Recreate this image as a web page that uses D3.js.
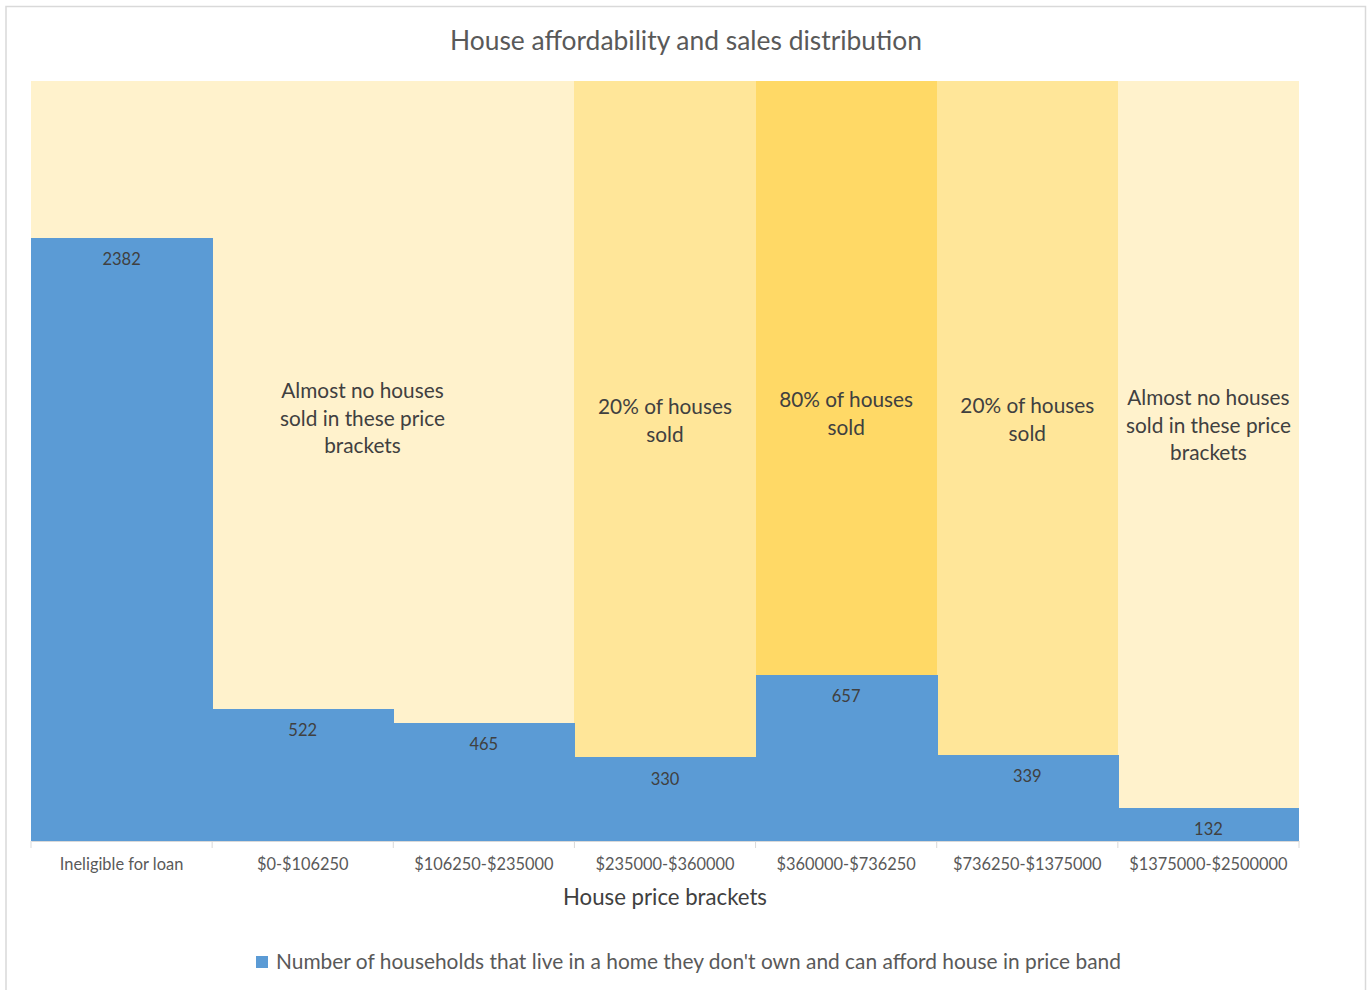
<!DOCTYPE html>
<html>
<head>
<meta charset="utf-8">
<script src="https://cdn.jsdelivr.net/npm/d3@7"></script>
<style>
  html, body { margin: 0; padding: 0; background: #fff; }
  svg { display: block; font-family: Lato, "Open Sans", sans-serif; }
</style>
</head>
<body>
<svg id="chart" width="1369" height="990"></svg>
<script>
// Price brackets along the x axis
const categories = [
  "Ineligible for loan",
  "$0-$106250",
  "$106250-$235000",
  "$235000-$360000",
  "$360000-$736250",
  "$736250-$1375000",
  "$1375000-$2500000"
];

// Households renting that can afford a house in each bracket
const households = [2382, 522, 465, 330, 657, 339, 132];

// Background band value (full height) and its shade level per bracket
const bandValues = [3000, 3000, 3000, 3000, 3000, 3000, 3000];
const bandShade = ["low", "low", "low", "mid", "high", "mid", "low"];

// Sales notes: text lines, centre position in bracket units, first-line height in axis units
const notes = [
  { lines: ["Almost no houses", "sold in these price", "brackets"], at: 1.83, value: 1776 },
  { lines: ["20% of houses", "sold"], at: 3.5, value: 1713 },
  { lines: ["80% of houses", "sold"], at: 4.5, value: 1741 },
  { lines: ["20% of houses", "sold"], at: 5.5, value: 1717 },
  { lines: ["Almost no houses", "sold in these price", "brackets"], at: 6.5, value: 1749 }
];

const yMax = 3000;

const shadeColor = { low: "#FFF2CC", mid: "#FFE699", high: "#FFD966" };
const barColor = "#5B9BD5";

const svg = d3.select("#chart");
const W = 1369, H = 990;
const margin = { left: 31, right: 70, top: 81, bottom: 149 };
const plotW = W - margin.left - margin.right;
const plotH = H - margin.top - margin.bottom;

// Outer chart frame (open at the bottom)
svg.append("path")
  .attr("d", `M6,${H + 2} V6.5 H1365.5 V${H + 2}`)
  .attr("fill", "none")
  .attr("stroke", "#D9D9D9")
  .attr("stroke-width", 1.5);

const x = d3.scaleBand().domain(categories).range([0, plotW]).padding(0);
const y = d3.scaleLinear().domain([0, yMax]).range([plotH, 0]);

const g = svg.append("g").attr("transform", `translate(${margin.left},${margin.top})`);

// Columns overlap by one pixel so no seam shows between neighbours
const colW = (d, i) => x.bandwidth() + (i < categories.length - 1 ? 1 : 0);

// Shaded background columns
g.selectAll("rect.band")
  .data(categories)
  .join("rect")
  .attr("class", "band")
  .attr("shape-rendering", "crispEdges")
  .attr("x", d => x(d))
  .attr("y", (d, i) => y(bandValues[i]))
  .attr("width", colW)
  .attr("height", (d, i) => plotH - y(bandValues[i]))
  .attr("fill", (d, i) => shadeColor[bandShade[i]]);

// Household bars
g.selectAll("rect.bar")
  .data(households)
  .join("rect")
  .attr("class", "bar")
  .attr("shape-rendering", "crispEdges")
  .attr("x", (d, i) => x(categories[i]))
  .attr("y", d => y(d))
  .attr("width", colW)
  .attr("height", d => plotH - y(d))
  .attr("fill", barColor);

// Value labels just inside the top of each bar
g.selectAll("text.val")
  .data(households)
  .join("text")
  .attr("class", "val")
  .attr("x", (d, i) => x(categories[i]) + x.bandwidth() / 2)
  .attr("y", d => y(d) + 21.5)
  .attr("dy", "0.35em")
  .attr("text-anchor", "middle")
  .attr("font-size", 16.5)
  .attr("fill", "#404040")
  .text(d => d);

// Sales notes
const noteX = d3.scaleLinear().domain([0, categories.length]).range([0, plotW]);
notes.forEach(n => {
  const t = g.append("text")
    .attr("text-anchor", "middle")
    .attr("font-size", 20.8)
    .attr("fill", "#404040");
  const y0 = y(n.value);
  n.lines.forEach((line, k) => {
    t.append("tspan")
      .attr("x", noteX(n.at))
      .attr("y", y0 + k * 27.5)
      .attr("dy", "0.35em")
      .text(line);
  });
});

// Category axis
const xAxis = g.append("g")
  .attr("transform", `translate(0,${plotH})`)
  .call(d3.axisBottom(x).tickSize(0).tickPadding(0));
xAxis.select(".domain").attr("stroke", "#D9D9D9").attr("stroke-width", 1);
xAxis.selectAll(".tick text")
  .attr("y", 23)
  .attr("dy", "0.35em")
  .attr("font-size", 16.4)
  .attr("font-family", "Lato, sans-serif")
  .attr("fill", "#595959");

// Tick marks at bracket boundaries
const edges = categories.map(c => x(c)).concat([plotW]);
xAxis.selectAll("line.edge")
  .data(edges)
  .join("line")
  .attr("class", "edge")
  .attr("x1", d => d).attr("x2", d => d)
  .attr("y1", 0).attr("y2", 7)
  .attr("stroke", "#D9D9D9");

// Axis title
svg.append("text")
  .attr("x", margin.left + plotW / 2)
  .attr("y", 897)
  .attr("dy", "0.35em")
  .attr("text-anchor", "middle")
  .attr("font-size", 22.2)
  .attr("fill", "#404040")
  .text("House price brackets");

// Chart title
svg.append("text")
  .attr("x", 686)
  .attr("y", 41)
  .attr("dy", "0.35em")
  .attr("text-anchor", "middle")
  .attr("font-size", 26.4)
  .attr("fill", "#595959")
  .text("House affordability and sales distribution");

// Legend
const legend = svg.append("g").attr("transform", "translate(256,962)");
legend.append("rect")
  .attr("x", 0).attr("y", -6)
  .attr("width", 12).attr("height", 12)
  .attr("fill", barColor);
legend.append("text")
  .attr("x", 20)
  .attr("dy", "0.35em")
  .attr("font-size", 20.9)
  .attr("fill", "#595959")
  .text("Number of households that live in a home they don't own and can afford house in price band");
</script>
</body>
</html>
